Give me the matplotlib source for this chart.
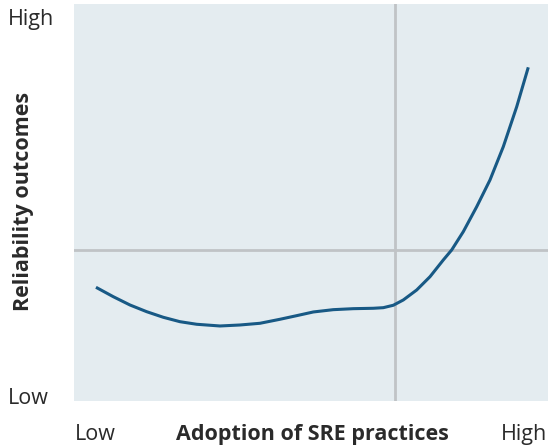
import matplotlib.pyplot as plt

plt.rcParams['font.family'] = ['Open Sans', 'DejaVu Sans']

# curve, axes scaled 0..100
adoption = [4.64, 8.29, 11.81, 15.34, 18.84, 22.36, 25.89, 30.80, 35.02, 39.24,
            43.46, 46.98, 50.49, 54.70, 58.92, 63.14, 65.25, 67.36, 69.47, 72.30,
            75.11, 77.91, 79.68, 82.13, 84.96, 87.76, 90.57, 93.40, 95.84]
reliability = [28.64, 26.27, 24.18, 22.49, 21.08, 19.97, 19.32, 18.89, 19.14, 19.57,
               20.58, 21.49, 22.42, 23.00, 23.25, 23.35, 23.50, 24.11, 25.44, 27.96,
               31.31, 35.52, 38.04, 42.65, 48.94, 55.67, 64.06, 74.13, 84.06]
x_split = 67.7
y_split = 38.0

fig = plt.figure(figsize=(5.48, 4.48), dpi=100)
ax = fig.add_axes([0.135, 0.105, 0.865, 0.886])
ax.set_facecolor('#e4ecf0')
ax.set_xlim(0, 100)
ax.set_ylim(0, 100)

ax.axvline(x_split, color='#c0c3c6', lw=2, zorder=1)
ax.axhline(y_split, color='#c0c3c6', lw=2, zorder=1)
ax.plot(adoption, reliability, color='#185985', lw=2.2, zorder=2,
        solid_capstyle='butt', solid_joinstyle='round')

ax.set_xticks([])
ax.set_yticks([])
for s in ax.spines.values():
    s.set_visible(False)

fs = 15.5
txt = '#2a2a2a'
fig.text(8 / 548, 1 - 19 / 448, 'High', fontsize=fs, color=txt, va='center', ha='left')
fig.text(8 / 548, 1 - 398 / 448, 'Low', fontsize=fs, color=txt, va='center', ha='left')
fig.text(75 / 548, 1 - 434 / 448, 'Low', fontsize=fs, color=txt, va='center', ha='left')
fig.text(547 / 548, 1 - 434 / 448, 'High', fontsize=fs, color=txt, va='center', ha='right')
fig.text(312 / 548, 1 - 434 / 448, 'Adoption of SRE practices', fontsize=fs,
         fontweight='bold', color=txt, va='center', ha='center')
fig.text(24 / 548, 1 - 201 / 448, 'Reliability outcomes', fontsize=fs, rotation=90,
         fontweight='bold', color=txt, va='center', ha='center')

fig.savefig('out.png', dpi=100)
